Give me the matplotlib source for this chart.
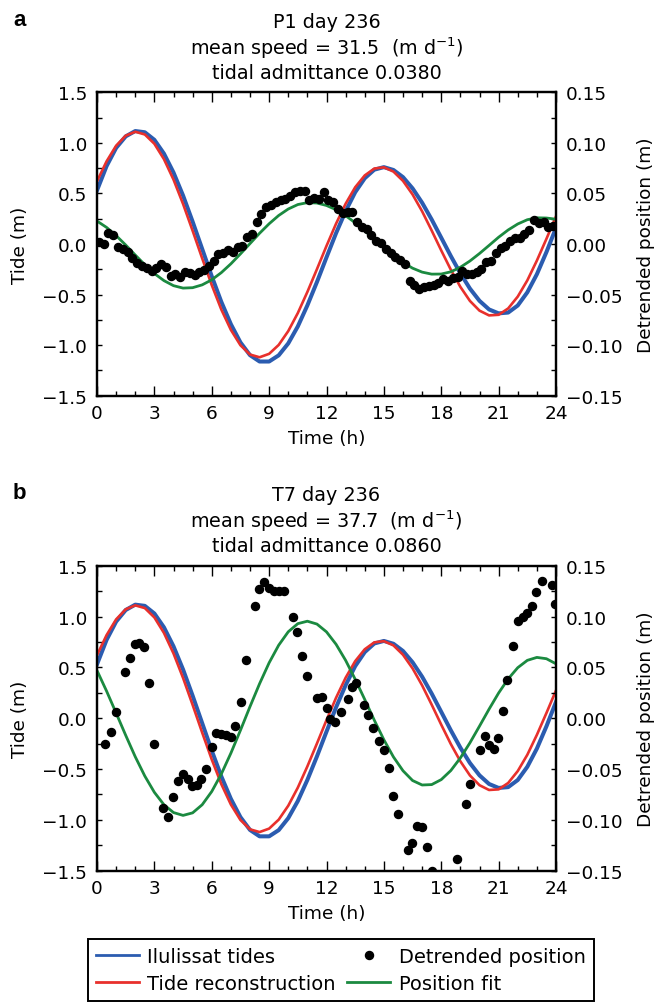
import matplotlib
matplotlib.use("Agg")
import matplotlib.pyplot as plt
from matplotlib.ticker import MultipleLocator
from matplotlib.lines import Line2D

# ---------------- data ----------------
TIDE_T = [0.0, 0.5, 1.0, 1.5, 2.0, 2.5, 3.0, 3.5, 4.0, 4.5, 5.0, 5.5, 6.0, 6.5, 7.0, 7.5,
          8.0, 8.5, 9.0, 9.5, 10.0, 10.5, 11.0, 11.5, 12.0, 12.5, 13.0, 13.5, 14.0, 14.5,
          15.0, 15.5, 16.0, 16.5, 17.0, 17.5, 18.0, 18.5, 19.0, 19.5, 20.0, 20.5, 21.0,
          21.5, 22.0, 22.5, 23.0, 23.5, 24.0]

ILULISSAT = [0.53, 0.77, 0.95, 1.064, 1.117, 1.105, 1.030, 0.894, 0.707, 0.479, 0.221,
             -0.049, -0.319, -0.572, -0.793, -0.973, -1.099, -1.162, -1.162, -1.101,
             -0.983, -0.815, -0.607, -0.376, -0.132, 0.107, 0.325, 0.512, 0.650, 0.735,
             0.760, 0.732, 0.661, 0.550, 0.408, 0.242, 0.062, -0.119, -0.290, -0.441,
             -0.562, -0.647, -0.686, -0.678, -0.608, -0.478, -0.299, -0.080, 0.160]

RECON = [0.62, 0.817, 0.972, 1.071, 1.110, 1.083, 0.991, 0.839, 0.637, 0.396, 0.131,
         -0.142, -0.406, -0.648, -0.849, -1.001, -1.093, -1.120, -1.086, -0.998, -0.861,
         -0.683, -0.474, -0.249, -0.019, 0.201, 0.398, 0.561, 0.678, 0.746, 0.758, 0.716,
         0.624, 0.490, 0.323, 0.133, -0.064, -0.254, -0.424, -0.563, -0.659, -0.706,
         -0.700, -0.637, -0.520, -0.360, -0.164, 0.051, 0.273]

FIT_A = [0.0227, 0.0164, 0.0083, -0.0010, -0.0109, -0.0205, -0.0292, -0.0362, -0.0412,
         -0.0436, -0.0432, -0.0404, -0.0354, -0.0283, -0.0196, -0.0098, 0.0004, 0.0106,
         0.0200, 0.0282, 0.0346, 0.0390, 0.0409, 0.0405, 0.0381, 0.0339, 0.0280, 0.0210,
         0.0130, 0.0046, -0.0037, -0.0115, -0.0183, -0.0239, -0.0278, -0.0298, -0.0297,
         -0.0275, -0.0230, -0.0168, -0.0094, -0.0014, 0.0067, 0.0139, 0.0198, 0.0240,
         0.0259, 0.0257, 0.0245]

FIT_B = [0.0469, 0.0267, 0.0051, -0.0168, -0.0379, -0.0569, -0.0729, -0.0851, -0.0928,
         -0.0956, -0.0931, -0.0851, -0.0721, -0.0549, -0.0344, -0.0119, 0.0114, 0.0339,
         0.0545, 0.0718, 0.0850, 0.0930, 0.0954, 0.0926, 0.0849, 0.0727, 0.0569, 0.0383,
         0.0184, -0.0020, -0.0212, -0.0381, -0.0517, -0.0613, -0.0657, -0.0653, -0.0604,
         -0.0515, -0.0391, -0.0242, -0.0078, 0.0089, 0.0248, 0.0387, 0.0497, 0.0569,
         0.0598, 0.0585, 0.0535]

POS_A_T = [0.10, 0.35, 0.60, 0.85, 1.10, 1.35, 1.60, 1.85, 2.10, 2.35, 2.60, 2.85, 3.10,
           3.35, 3.60, 3.85, 4.10, 4.35, 4.60, 4.85, 5.10, 5.35, 5.60, 5.85, 6.10, 6.35,
           6.60, 6.85, 7.10, 7.35, 7.60, 7.85, 8.10, 8.35, 8.60, 8.85, 9.10, 9.35, 9.60,
           9.85, 10.10, 10.35, 10.60, 10.85, 11.10, 11.35, 11.60, 11.85, 12.10, 12.35,
           12.60, 12.85, 13.10, 13.35, 13.60, 13.85, 14.10, 14.35, 14.60, 14.85, 15.10,
           15.35, 15.60, 15.85, 16.10, 16.35, 16.60, 16.85, 17.10, 17.35, 17.60, 17.85,
           18.10, 18.35, 18.60, 18.85, 19.10, 19.35, 19.60, 19.85, 20.10, 20.35, 20.60,
           20.85, 21.10, 21.35, 21.60, 21.85, 22.10, 22.35, 22.60, 22.85, 23.10, 23.35,
           23.60, 23.85]

POS_A = [0.0023, 0.0000, 0.0105, 0.0089, -0.0026, -0.0049, -0.0076, -0.0141, -0.0191,
         -0.0217, -0.0240, -0.0267, -0.0234, -0.0201, -0.0224, -0.0313, -0.0299, -0.0322,
         -0.0280, -0.0290, -0.0306, -0.0273, -0.0257, -0.0214, -0.0168, -0.0102, -0.0092,
         -0.0059, -0.0076, -0.0026, -0.0016, 0.0072, 0.0099, 0.0214, 0.0293, 0.0362,
         0.0385, 0.0411, 0.0434, 0.0444, 0.0474, 0.0510, 0.0523, 0.0523, 0.0434, 0.0457,
         0.0444, 0.0510, 0.0434, 0.0418, 0.0346, 0.0310, 0.0313, 0.0313, 0.0220, 0.0171,
         0.0148, 0.0089, 0.0033, 0.0007, -0.0049, -0.0092, -0.0125, -0.0158, -0.0201,
         -0.0365, -0.0405, -0.0448, -0.0421, -0.0411, -0.0405, -0.0388, -0.0349, -0.0365,
         -0.0339, -0.0322, -0.0267, -0.0299, -0.0296, -0.0280, -0.0247, -0.0181, -0.0165,
         -0.0092, -0.0036, -0.0016, 0.0030, 0.0056, 0.0063, 0.0095, 0.0138, 0.0237,
         0.0204, 0.0220, 0.0171, 0.0181]

POS_B_T = [0.44, 0.73, 1.01, 1.48, 1.73, 1.97, 2.21, 2.47, 2.72, 3.00, 3.45, 3.71, 3.97,
           4.24, 4.51, 4.76, 4.98, 5.23, 5.46, 5.68, 6.01, 6.24, 6.48, 6.74, 6.99, 7.22,
           7.51, 7.79, 8.24, 8.49, 8.73, 8.98, 9.24, 9.50, 9.76, 10.23, 10.47, 10.72,
           11.00, 11.52, 11.76, 12.01, 12.20, 12.44, 12.76, 13.11, 13.32, 13.54, 13.96,
           14.19, 14.41, 14.73, 15.01, 15.25, 15.49, 15.72, 16.24, 16.49, 16.74, 17.01,
           17.24, 17.50, 18.81, 19.28, 19.49, 20.04, 20.27, 20.51, 20.74, 20.98, 21.23,
           21.46, 21.73, 22.03, 22.26, 22.50, 22.73, 22.97, 23.25, 23.77, 23.95]

POS_B = [-0.0257, -0.0135, 0.0063, 0.0451, 0.0589, 0.0730, 0.0740, 0.0704, 0.0345,
         -0.0250, -0.0888, -0.0970, -0.0773, -0.0618, -0.0546, -0.0595, -0.0668, -0.0661,
         -0.0602, -0.0503, -0.0280, -0.0148, -0.0151, -0.0164, -0.0181, -0.0076, 0.0164,
         0.0572, 0.1102, 0.1273, 0.1339, 0.1280, 0.1250, 0.1250, 0.1250, 0.0993, 0.0845,
         0.0609, 0.0414, 0.0197, 0.0211, 0.0099, -0.0003, -0.0036, 0.0063, 0.0188, 0.0303,
         0.0342, 0.0132, 0.0030, -0.0099, -0.0224, -0.0316, -0.0490, -0.0766, -0.0947,
         -0.1299, -0.1227, -0.1063, -0.1072, -0.1266, -0.1507, -0.1382, -0.0842, -0.0651,
         -0.0316, -0.0178, -0.0263, -0.0299, -0.0191, 0.0069, 0.0375, 0.0707, 0.0954,
         0.0993, 0.1036, 0.1099, 0.1240, 0.1345, 0.1306, 0.1125]

PANELS = [
    dict(letter="a", station="P1 day 236", speed="31.5", admit="0.0380",
         pos_t=POS_A_T, pos=POS_A, fit=FIT_A),
    dict(letter="b", station="T7 day 236", speed="37.7", admit="0.0860",
         pos_t=POS_B_T, pos=POS_B, fit=FIT_B),
]

LABELS = ["Ilulissat tides", "Tide reconstruction", "Detrended position", "Position fit"]
C_BLUE = "#2b5cb0"
C_RED = "#e8302c"
C_GREEN = "#1b8a40"

# ---------------- style ----------------
plt.rcParams["font.family"] = ["DejaVu Sans"]
plt.rcParams["font.size"] = 13
plt.rcParams["mathtext.fontset"] = "dejavusans"

W, H = 664, 1003
fig = plt.figure(figsize=(W / 100, H / 100), dpi=100)

ax_left_px, ax_right_px = 97, 556
panel_tops = [93.3, 566.7]
panel_h = [303.4, 305.0]
TITLE_FS = 13.8
TICK_FS = 13.3
LABEL_FS = 13.3


def style_axes(ax, ax2):
    ax.set_xlim(0, 24)
    ax.set_ylim(-1.5, 1.5)
    ax2.set_ylim(-0.15, 0.15)
    ax.xaxis.set_major_locator(MultipleLocator(3))
    ax.xaxis.set_minor_locator(MultipleLocator(1))
    ax.yaxis.set_major_locator(MultipleLocator(0.5))
    ax.yaxis.set_minor_locator(MultipleLocator(0.25))
    ax2.yaxis.set_major_locator(MultipleLocator(0.05))
    ax2.yaxis.set_minor_locator(MultipleLocator(0.025))
    ax.tick_params(axis="x", which="major", direction="in", length=7, width=1.0,
                   top=True, bottom=True, pad=6, labelsize=TICK_FS)
    ax.tick_params(axis="x", which="minor", direction="in", length=3.5, width=1.0,
                   top=True, bottom=True)
    ax.tick_params(axis="y", which="both", direction="in", length=3.8, width=1.0,
                   left=True, right=False, pad=7, labelsize=TICK_FS)
    ax2.tick_params(axis="y", which="both", direction="in", length=3.8, width=1.0,
                    right=True, left=False, pad=7, labelsize=TICK_FS)
    for a in (ax, ax2):
        for s in a.spines.values():
            s.set_linewidth(1.6)


for i, p in enumerate(PANELS):
    top = panel_tops[i]
    h = panel_h[i]
    rect = [ax_left_px / W, 1 - (top + h) / H, (ax_right_px - ax_left_px) / W, h / H]
    ax = fig.add_axes(rect)
    ax2 = ax.twinx()

    ax.plot(TIDE_T, ILULISSAT, color=C_BLUE, lw=2.9, zorder=2)
    ax.plot(TIDE_T, RECON, color=C_RED, lw=1.9, zorder=3)
    ax2.plot(TIDE_T, p["fit"], color=C_GREEN, lw=2.0, zorder=2)
    ax2.plot(p["pos_t"], p["pos"], "o", color="black", ms=5.8, mec="black", zorder=3)

    style_axes(ax, ax2)

    ax.set_ylabel("Tide (m)", fontsize=LABEL_FS)
    ax.yaxis.set_label_coords(-0.148, 0.5)
    ax2.set_ylabel("Detrended position (m)", fontsize=LABEL_FS)
    ax2.yaxis.set_label_coords(1.176, 0.5)
    ax.set_xlabel("Time (h)", fontsize=LABEL_FS)
    ax.xaxis.set_label_coords(0.5, -0.11)

    xc = (ax_left_px + ax_right_px) / 2 / W
    fig.text(xc, 1 - (top - 71) / H, p["station"], ha="center", va="center",
             fontsize=TITLE_FS)
    fig.text(xc, 1 - (top - 45.5) / H,
             "mean speed = " + p["speed"] + r"  $(\mathrm{m\ d^{-1}})$",
             ha="center", va="center", fontsize=TITLE_FS)
    fig.text(xc, 1 - (top - 20) / H, "tidal admittance " + p["admit"],
             ha="center", va="center", fontsize=TITLE_FS)
    fig.text(13 / W, 1 - (top - 73) / H, p["letter"], ha="left", va="center",
             fontsize=16, fontweight="bold", family=["Liberation Sans", "DejaVu Sans"])

handles = [
    Line2D([], [], color=C_BLUE, lw=2.0),
    Line2D([], [], color=C_RED, lw=2.0),
    Line2D([], [], ls="none", marker="o", color="black", ms=5.8),
    Line2D([], [], color=C_GREEN, lw=2.0),
]
leg = fig.legend(handles, LABELS, loc="upper left", ncol=2,
                 bbox_to_anchor=(88 / W, 1 - 940 / H), borderaxespad=0,
                 frameon=True, fancybox=False, edgecolor="black", framealpha=1,
                 fontsize=14, numpoints=1, handlelength=2.2, handletextpad=0.45,
                 columnspacing=0.6, labelspacing=0.42, borderpad=0.4)
leg.get_frame().set_linewidth(1.4)

fig.savefig("out.png", dpi=100)
